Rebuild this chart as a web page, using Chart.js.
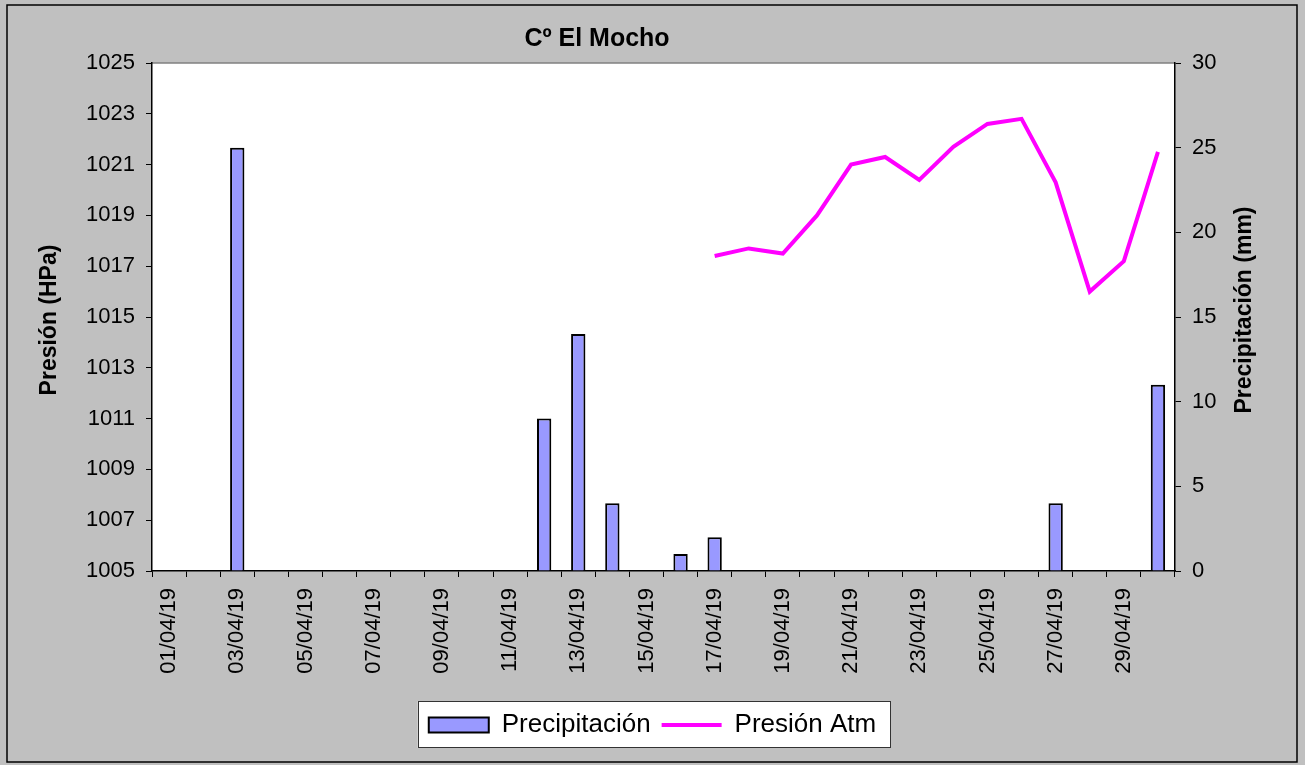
<!DOCTYPE html>
<html>
<head>
<meta charset="utf-8">
<script src="https://cdn.jsdelivr.net/npm/chart.js@4/dist/chart.umd.min.js"></script>
<style>
  html, body { margin: 0; padding: 0; background: #c0c0c0; overflow: hidden; }
  #wrap { width: 1305px; height: 765px; position: relative; }
</style>
</head>
<body>
<div id="wrap"><canvas id="grafico"></canvas></div>
<script>
const fechas = ['01/04/19','02/04/19','03/04/19','04/04/19','05/04/19','06/04/19','07/04/19','08/04/19','09/04/19','10/04/19',
                '11/04/19','12/04/19','13/04/19','14/04/19','15/04/19','16/04/19','17/04/19','18/04/19','19/04/19','20/04/19',
                '21/04/19','22/04/19','23/04/19','24/04/19','25/04/19','26/04/19','27/04/19','28/04/19','29/04/19','30/04/19'];
const precipitacion = [0,0,25,0,0,0,0,0,0,0, 0,9,14,4,0,1,2,0,0,0, 0,0,0,0,0,0,4,0,0,11];
const presion = [null,null,null,null,null,null,null,null,null,null,
                 null,null,null,null,null,null,1017.4,1017.7,1017.5,1019.0,
                 1021.0,1021.3,1020.4,1021.7,1022.6,1022.8,1020.3,1016.0,1017.2,1021.5];

const fuente = 'Liberation Sans, Arial, sans-serif';

const fondo = {
    id: 'fondo',
    beforeDraw(chart) {
        const c = chart.ctx, a = chart.chartArea;
        c.save();
        c.fillStyle = '#c0c0c0';
        c.fillRect(0, 0, chart.width, chart.height);
        c.strokeStyle = '#000'; c.lineWidth = 1.5;
        c.strokeRect(7, 5, 1290, 757);
        c.fillStyle = '#fff';
        c.fillRect(a.left, a.top, a.right - a.left, a.bottom - a.top);
        c.strokeStyle = '#808080'; c.lineWidth = 1.5;
        c.beginPath(); c.moveTo(a.left, a.top); c.lineTo(a.right, a.top); c.stroke();
        // caja de la leyenda, solo alrededor de los items
        const l = chart.legend, hb = l.legendHitBoxes;
        const x0 = hb[0].left - 11;
        const last = hb[hb.length - 1];
        const x1 = last.left + last.width + 14;
        c.fillStyle = '#fff';
        c.fillRect(x0, l.top, x1 - x0, l.height);
        c.strokeStyle = '#333'; c.lineWidth = 1;
        c.strokeRect(Math.round(x0) + 0.5, Math.round(l.top) + 0.5, Math.round(x1 - x0), Math.round(l.height) - 1);
        c.restore();
    },
    afterDraw(chart) {
        const c = chart.ctx;
        c.save();
        c.fillStyle = '#000';
        c.textAlign = 'center'; c.textBaseline = 'middle';
        c.font = 'bold 25px ' + fuente;
        c.fillText('Cº El Mocho', 597, 39);
        c.font = 'bold 23px ' + fuente;
        c.translate(50, 320); c.rotate(-Math.PI / 2);
        c.fillText('Presión (HPa)', 0, 0);
        c.setTransform(1, 0, 0, 1, 0, 0);
        c.translate(1245, 310); c.rotate(-Math.PI / 2);
        c.fillText('Precipitación (mm)', 0, 0);
        c.restore();
    }
};

new Chart(document.getElementById('grafico').getContext('2d'), {
    type: 'bar',
    data: {
        labels: fechas,
        datasets: [{
            label: 'Precipitación',
            data: precipitacion,
            yAxisID: 'yR',
            backgroundColor: '#9999ff',
            borderColor: '#000',
            borderWidth: 2,
            borderSkipped: 'bottom',
            categoryPercentage: 1,
            barPercentage: 0.42,
            pointStyle: 'rect'
        }, {
            type: 'line',
            label: 'Presión Atm',
            data: presion,
            yAxisID: 'yP',
            borderColor: '#ff00ff',
            backgroundColor: '#ff00ff',
            borderWidth: 4,
            pointRadius: 0,
            tension: 0,
            spanGaps: false,
            pointStyle: 'line'
        }]
    },
    options: {
        responsive: true,
        maintainAspectRatio: false,
        animation: false,
        layout: { padding: { top: 63, left: 0, right: 0, bottom: 17 } },
        plugins: {
            tooltip: { enabled: false },
            legend: {
                position: 'bottom',
                labels: {
                    usePointStyle: true,
                    pointStyleWidth: 60,
                    boxHeight: 15,
                    padding: 11,
                    color: '#000',
                    font: { family: fuente, size: 26 }
                }
            }
        },
        scales: {
            x: {
                grid: { display: true, drawOnChartArea: false, drawTicks: true, tickLength: 6, color: '#000', offset: true },
                border: { color: '#000', width: 1.5 },
                ticks: {
                    autoSkip: false, maxRotation: 90, minRotation: 90, padding: 11, color: '#000',
                    font: { family: fuente, size: 22 },
                    callback: (v, i) => i % 2 === 0 ? fechas[i] : ''
                },
                afterFit(s) { s.height = 130; }
            },
            yP: {
                position: 'left', min: 1005, max: 1025,
                grid: { drawOnChartArea: false, tickLength: 6, color: '#000' },
                border: { color: '#000', width: 1.5 },
                ticks: { stepSize: 2, padding: 11, color: '#000', font: { family: fuente, size: 22 }, callback: v => String(v) },
                afterFit(s) { s.width = 152; }
            },
            yR: {
                position: 'right', min: 0, max: 30,
                grid: { drawOnChartArea: false, tickLength: 6, color: '#000' },
                border: { color: '#000', width: 1.5 },
                ticks: { stepSize: 5, padding: 11, color: '#000', font: { family: fuente, size: 22 }, callback: v => String(v) },
                afterFit(s) { s.width = 130; }
            }
        }
    },
    plugins: [fondo]
});
</script>
</body>
</html>
